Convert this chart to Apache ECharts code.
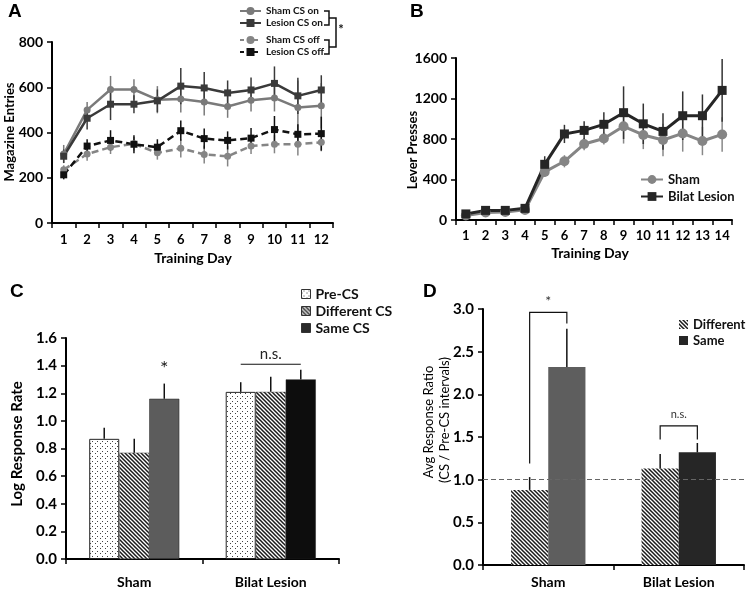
<!DOCTYPE html>
<html><head><meta charset="utf-8">
<script src="https://cdn.jsdelivr.net/npm/echarts@6/dist/echarts.min.js"></script>
<style>html,body{margin:0;padding:0;background:#fff}#c{width:746px;height:590px}</style>
</head><body><div id="c"></div>
<script>
// ---------- Panel A ----------
const daysA = ['1','2','3','4','5','6','7','8','9','10','11','12'];
const shamOnA    = [305, 500, 590, 590, 545, 548, 535, 515, 543, 553, 510, 518];
const shamOnErrA = [40, 35, 60, 45, 60, 60, 60, 50, 50, 60, 120, 100];
const lesOnA     = [295, 463, 525, 525, 540, 605, 597, 575, 588, 617, 562, 588];
const lesOnErrA  = [30, 50, 70, 40, 50, 80, 70, 55, 55, 75, 80, 65];
const shamOffA    = [235, 305, 335, 350, 310, 330, 303, 295, 340, 348, 348, 357];
const shamOffErrA = [20, 30, 30, 30, 30, 40, 40, 45, 35, 40, 50, 40];
const lesOffA     = [213, 340, 365, 348, 335, 408, 373, 365, 375, 413, 392, 395];
const lesOffErrA  = [20, 30, 45, 40, 35, 45, 45, 40, 45, 60, 45, 75];
// ---------- Panel B ----------
const daysB = ['1','2','3','4','5','6','7','8','9','10','11','12','13','14'];
const shamB    = [45, 75, 80, 100, 475, 580, 750, 805, 925, 840, 790, 855, 780, 845];
const shamErrB = [10, 10, 10, 10, 50, 60, 60, 60, 170, 140, 160, 180, 140, 170];
const lesB     = [60, 95, 95, 115, 550, 850, 885, 945, 1060, 950, 875, 1030, 1030, 1280];
const lesErrB  = [10, 15, 15, 15, 80, 90, 90, 120, 260, 200, 180, 240, 210, 310];
// ---------- Panel C ----------
const groupsC = ['Sham', 'Bilat Lesion'];
const preC = [0.87, 1.21];      const preErrC = [0.08, 0.07];
const diffC = [0.77, 1.21];     const diffErrC = [0.10, 0.11];
const sameC = [1.16, 1.30];     const sameErrC = [0.11, 0.07];
const nsLevelC = 1.41;
// ---------- Panel D ----------
const groupsD = ['Sham', 'Bilat Lesion'];
const diffD = [0.88, 1.13];     const diffErrD = [0.15, 0.17];
const sameD = [2.32, 1.32];     const sameErrD = [0.45, 0.11];
const refLineD = 1.0;
const starBracketD = [2.96, 1.19, 2.83];   // top, left leg end, right leg end
const nsBracketD = [1.63, 1.47, 1.47];

const FONT = 'Lato, "Open Sans", sans-serif';

function makeDots(){
  const c=document.createElement('canvas'); c.width=5; c.height=5;
  const g=c.getContext('2d'); g.fillStyle='#fff'; g.fillRect(0,0,5,5);
  g.fillStyle='#444'; g.fillRect(2,1,1,1); g.fillRect(0,3,1,1) ; return c;
}
function makeStripes(){
  const s=4; const c=document.createElement('canvas'); c.width=s; c.height=s;
  const g=c.getContext('2d'); g.fillStyle='#fff'; g.fillRect(0,0,s,s);
  g.strokeStyle='#1a1a1a'; g.lineWidth=1.5; g.beginPath();
  g.moveTo(-1,-1); g.lineTo(s+1,s+1);
  g.moveTo(-1,s-1); g.lineTo(1,s+1);
  g.moveTo(s-1,-1); g.lineTo(s+1,1);
  g.stroke(); return c;
}
const dots = {image: makeDots(), repeat:'repeat'};
const stripes = {image: makeStripes(), repeat:'repeat'};

function lineErr(vals, errs){ return vals.map((v,i)=>[i, v, errs[i]]); }
function errRender(color){
  return function(params, api){
    const x=api.value(0), v=api.value(1), e=api.value(2);
    const a=api.coord([x, v-e]), b=api.coord([x, v+e]);
    return {type:'line', shape:{x1:a[0],y1:a[1],x2:b[0],y2:b[1]}, style:{stroke:color, lineWidth:1.5}};
  };
}
function barErrData(listOfVals, listOfErrs){
  const out=[]; listOfVals.forEach((vals,k)=>vals.forEach((v,i)=>out.push([i,k,v,listOfErrs[k][i]]))); return out;
}
function barErrRender(n, frac){
  return function(params, api){
    const cat=api.value(0), k=api.value(1), v=api.value(2), e=api.value(3);
    const bw=api.size([1,0])[0]*frac;
    const off=(k-(n-1)/2)*bw;
    const a=api.coord([cat,v]), b=api.coord([cat,v+e]);
    return {type:'line', shape:{x1:a[0]+off,y1:a[1],x2:b[0]+off,y2:b[1]}, style:{stroke:'#111', lineWidth:1.5}};
  };
}

const axisLineS = {show:true, lineStyle:{color:'#000', width:2}};
const tickS = {show:true, length:5, lineStyle:{color:'#000', width:1.5}};
function catAxis(idx, data, fs, margin){
  return {gridIndex:idx, type:'category', data:data, boundaryGap:true,
    axisLine:axisLineS, axisTick:Object.assign({interval:0}, tickS),
    axisLabel:{interval:0, color:'#000', fontFamily:FONT, fontWeight:'bold', fontSize:fs, margin:margin},
    splitLine:{show:false}};
}
function valAxis(idx, max, interval, fs, dec){
  return {gridIndex:idx, type:'value', min:0, max:max, interval:interval,
    axisLine:axisLineS, axisTick:tickS,
    axisLabel:{color:'#000', fontFamily:FONT, fontWeight:'bold', fontSize:fs, margin:9,
      formatter: v => dec ? v.toFixed(dec) : String(v)},
    splitLine:{show:false}};
}

const cA = {shamOn:'#7a7a7a', lesOn:'#3a3a3a', shamOff:'#858585', lesOff:'#111'};

function lineSeries(name, data, color, sym, size, dashed, xi, width){
  return {name, type:'line', xAxisIndex:xi, yAxisIndex:xi, data, symbol:sym, symbolSize:size, z:4,
    itemStyle:{color}, lineStyle:{color, width:width, type: dashed ? [7,4] : 'solid'}, emphasis:{disabled:true}};
}
function errSeries(vals, errs, color, xi){
  return {type:'custom', xAxisIndex:xi, yAxisIndex:xi, data:lineErr(vals, errs), renderItem:errRender(color), z:3, silent:true, encode:{x:0,y:1}};
}

const nC = 3, fracC = 0.22;
const nD = 2, fracD = 0.285;
const legText = (fs) => ({fontSize:fs, fontWeight:'bold', color:'#111', fontFamily:FONT});

const option = {
  animation:false,
  textStyle:{fontFamily:FONT},
  grid:[
    {left:52, top:42, width:281, height:181},
    {left:456, top:58, width:276, height:162},
    {left:66, top:338, width:273, height:221},
    {left:483, top:309, width:261, height:256}
  ],
  xAxis:[
    catAxis(0, daysA, 13, 10),
    catAxis(1, daysB, 13, 9),
    catAxis(2, groupsC, 14, 16),
    catAxis(3, groupsD, 14, 10)
  ],
  yAxis:[
    valAxis(0, 800, 200, 14, 0),
    valAxis(1, 1600, 400, 14, 0),
    valAxis(2, 1.6, 0.2, 15, 1),
    valAxis(3, 3.0, 0.5, 15, 1)
  ],
  legend:[
    {data:['Sham CS on','Lesion CS on'], orient:'vertical', left:239, top:6, padding:0, itemWidth:21, itemHeight:10, itemGap:2,
      textStyle:legText(10), selectedMode:false},
    {data:[{name:'Sham CS off', lineStyle:{type:[4,3]}}, {name:'Lesion CS off', lineStyle:{type:[4,3]}}],
      orient:'vertical', left:239, top:35, padding:0, itemWidth:21, itemHeight:10, itemGap:2,
      textStyle:legText(10), selectedMode:false},
    {data:['Sham','Bilat Lesion'], orient:'vertical', left:640, top:173, padding:0, itemWidth:22, itemHeight:11, itemGap:4,
      textStyle:legText(13), selectedMode:false},
    {data:['Pre-CS','Different CS','Same CS'], orient:'vertical', left:301, top:287, padding:0, icon:'rect', itemWidth:9, itemHeight:9, itemGap:3,
      itemStyle:{borderColor:'#333', borderWidth:1}, textStyle:legText(14), selectedMode:false},
    {data:['Different','Same'], orient:'vertical', left:679, top:318, padding:0, icon:'rect', itemWidth:9, itemHeight:9, itemGap:3,
      textStyle:legText(13), selectedMode:false}
  ],
  graphic:[
    {type:'text', x:8, y:2, style:{text:'A', font:'bold 19px Arial, "Liberation Sans"', fill:'#000'}},
    {type:'text', x:410, y:2, style:{text:'B', font:'bold 19px Arial, "Liberation Sans"', fill:'#000'}},
    {type:'text', x:10, y:282, style:{text:'C', font:'bold 19px Arial, "Liberation Sans"', fill:'#000'}},
    {type:'text', x:423, y:282, style:{text:'D', font:'bold 19px Arial, "Liberation Sans"', fill:'#000'}},
    {type:'text', x:10, y:132, rotation:Math.PI/2, style:{text:'Magazine Entries', font:'bold 13px '+FONT, fill:'#000', align:'center', verticalAlign:'middle'}},
    {type:'text', x:193, y:258, style:{text:'Training Day', font:'bold 14px '+FONT, fill:'#000', align:'center', verticalAlign:'middle'}},
    {type:'text', x:413, y:150, rotation:Math.PI/2, style:{text:'Lever Presses', font:'bold 13px '+FONT, fill:'#000', align:'center', verticalAlign:'middle'}},
    {type:'text', x:590, y:253, style:{text:'Training Day', font:'bold 14px '+FONT, fill:'#000', align:'center', verticalAlign:'middle'}},
    {type:'text', x:17, y:444, rotation:Math.PI/2, style:{text:'Log Response Rate', font:'bold 15px '+FONT, fill:'#000', align:'center', verticalAlign:'middle'}},
    {type:'text', x:429, y:422, rotation:Math.PI/2, style:{text:'Avg Response Ratio', font:'13px '+FONT, fill:'#000', align:'center', verticalAlign:'middle'}},
    {type:'text', x:445, y:420, rotation:Math.PI/2, style:{text:'(CS / Pre-CS intervals)', font:'13px '+FONT, fill:'#000', align:'center', verticalAlign:'middle'}},
    {type:'polyline', shape:{points:[[324,11],[329,11],[329,25],[324,25]]}, style:{stroke:'#111', lineWidth:1.5, fill:null}},
    {type:'polyline', shape:{points:[[324,40],[329,40],[329,54],[324,54]]}, style:{stroke:'#111', lineWidth:1.5, fill:null}},
    {type:'polyline', shape:{points:[[329,18],[336,18],[336,47],[329,47]]}, style:{stroke:'#111', lineWidth:1.5, fill:null}},
    {type:'text', x:341, y:30, style:{text:'*', font:'bold 13px '+FONT, fill:'#111', align:'center', verticalAlign:'middle'}}
  ],
  series:[
    errSeries(shamOnA, shamOnErrA, cA.shamOn, 0),
    errSeries(lesOnA, lesOnErrA, cA.lesOn, 0),
    errSeries(shamOffA, shamOffErrA, cA.shamOff, 0),
    errSeries(lesOffA, lesOffErrA, cA.lesOff, 0),
    lineSeries('Sham CS on', shamOnA, cA.shamOn, 'circle', 7, false, 0, 2.5),
    lineSeries('Lesion CS on', lesOnA, cA.lesOn, 'rect', 7, false, 0, 2.5),
    lineSeries('Sham CS off', shamOffA, cA.shamOff, 'circle', 7, true, 0, 2.5),
    lineSeries('Lesion CS off', lesOffA, cA.lesOff, 'rect', 7, true, 0, 2.5),
    errSeries(shamB, shamErrB, '#888', 1),
    errSeries(lesB, lesErrB, '#333', 1),
    lineSeries('Sham', shamB, '#858585', 'circle', 10, false, 1, 3),
    lineSeries('Bilat Lesion', lesB, '#262626', 'rect', 9, false, 1, 3),
    {name:'Pre-CS', type:'bar', xAxisIndex:2, yAxisIndex:2, data:preC, barWidth:(fracC*100)+'%', barGap:'0%',
      itemStyle:{color:dots, borderColor:'#222', borderWidth:1}, emphasis:{disabled:true}},
    {name:'Different CS', type:'bar', xAxisIndex:2, yAxisIndex:2, data:diffC, barWidth:(fracC*100)+'%', barGap:'0%',
      itemStyle:{color:stripes, borderColor:'#555', borderWidth:0.5}, emphasis:{disabled:true}},
    {name:'Same CS', type:'bar', xAxisIndex:2, yAxisIndex:2, barWidth:(fracC*100)+'%', barGap:'0%',
      data: sameC.map((v,i)=>({value:v, itemStyle:{color: i===0 ? '#5c5c5c' : '#0d0d0d'}})),
      itemStyle:{color:'#2a2a2a', borderColor:'#222', borderWidth:0.5}, emphasis:{disabled:true}},
    {type:'custom', xAxisIndex:2, yAxisIndex:2, silent:true, z:3,
      data: barErrData([preC, diffC, sameC], [preErrC, diffErrC, sameErrC]),
      renderItem: barErrRender(nC, fracC), encode:{x:0, y:2}},
    {type:'custom', xAxisIndex:2, yAxisIndex:2, silent:true, z:3,
      data: [[0, 2, nsLevelC], [1, 0, nsLevelC]],
      renderItem: function(params, api){
        const cat=api.value(0), k=api.value(1), lvl=api.value(2);
        const bw=api.size([1,0])[0]*fracC;
        const p=api.coord([cat,lvl]);
        if (params.dataIndex===0){
          return {type:'text', x:p[0]+(k-1)*bw, y:p[1]+4, style:{text:'*', font:'20px '+FONT, fill:'#222', align:'center', verticalAlign:'middle'}};
        }
        const x1=p[0]-bw, x2=p[0]+bw;
        return {type:'group', children:[
          {type:'line', shape:{x1:x1,y1:p[1],x2:x2,y2:p[1]}, style:{stroke:'#111', lineWidth:1.2}},
          {type:'text', x:p[0], y:p[1]-3, style:{text:'n.s.', font:'15px '+FONT, fill:'#222', align:'center', verticalAlign:'bottom'}}
        ]};
      }},
    {type:'line', xAxisIndex:3, yAxisIndex:3, data:[], z:1, silent:true,
      markLine:{silent:true, symbol:'none', label:{show:false}, lineStyle:{type:[5,3], color:'#666', width:1.2}, data:[{yAxis:refLineD}]}},
    {name:'Different', type:'bar', xAxisIndex:3, yAxisIndex:3, data:diffD, barWidth:(fracD*100)+'%', barGap:'0%', z:2,
      itemStyle:{color:stripes}, emphasis:{disabled:true}},
    {name:'Same', type:'bar', xAxisIndex:3, yAxisIndex:3, barWidth:(fracD*100)+'%', barGap:'0%', z:2,
      data: sameD.map((v,i)=>({value:v, itemStyle:{color: i===0 ? '#5e5e5e' : '#262626'}})),
      itemStyle:{color:'#262626'}, emphasis:{disabled:true}},
    {type:'custom', xAxisIndex:3, yAxisIndex:3, silent:true, z:3,
      data: barErrData([diffD, sameD], [diffErrD, sameErrD]),
      renderItem: barErrRender(nD, fracD), encode:{x:0, y:2}},
    {type:'custom', xAxisIndex:3, yAxisIndex:3, silent:true, z:3,
      data: [[0].concat(starBracketD), [1].concat(nsBracketD)],
      renderItem: function(params, api){
        const cat=api.value(0), top=api.value(1), lb=api.value(2), rb=api.value(3);
        const bw=api.size([1,0])[0]*fracD;
        const pt=api.coord([cat,top]), pl=api.coord([cat,lb]), pr=api.coord([cat,rb]);
        const xl=pt[0]-bw/2, xr=pt[0]+bw/2;
        const isStar = params.dataIndex===0;
        return {type:'group', children:[
          {type:'polyline', shape:{points:[[xl,pl[1]],[xl,pt[1]],[xr,pt[1]],[xr,pr[1]]]}, style:{stroke:'#111', lineWidth:1.2, fill:null}},
          {type:'text', x:pt[0], y:pt[1]-(isStar?4:6), style:{text: isStar ? '*' : 'n.s.', font:(isStar?'14px ':'11px ')+FONT, fill:'#333', align:'center', verticalAlign:'bottom'}}
        ]};
      }}
  ]
};
const chart = echarts.init(document.getElementById('c'), null, {renderer:'canvas'});
chart.setOption(option);
</script></body></html>
